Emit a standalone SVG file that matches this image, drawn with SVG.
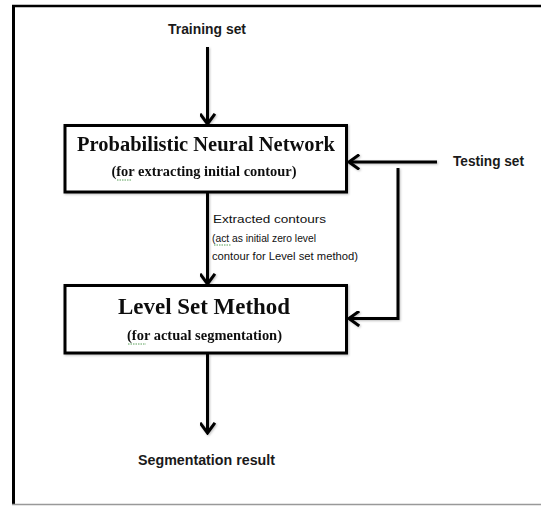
<svg xmlns="http://www.w3.org/2000/svg" width="541" height="506" viewBox="0 0 541 506">
  <defs>
    <marker id="arrow" markerUnits="userSpaceOnUse" viewBox="0 0 14 16" refX="12" refY="8" markerWidth="14" markerHeight="16" orient="auto">
      <path d="M3,1.5 L12,8 L3,14.5" fill="none" stroke="#000" stroke-width="3" stroke-linecap="square" stroke-linejoin="miter"/>
    </marker>
    <filter id="shadow" x="-10%" y="-10%" width="120%" height="120%">
      <feDropShadow dx="1" dy="1" stdDeviation="1" flood-color="#000" flood-opacity="0.25"/>
    </filter>
  </defs>
  <style>
    .box { fill: #fff; stroke: #000; stroke-width: 3; }
    .conn { fill: none; stroke: #000; stroke-width: 3; }
    .title { font-family: "Liberation Serif", "Times New Roman", serif; font-weight: bold; fill: #111; text-anchor: middle; }
    .sub { font-family: "Liberation Serif", "Times New Roman", serif; font-weight: bold; font-size: 14px; fill: #111; text-anchor: middle; }
    .lbl { font-family: "Liberation Sans", Arial, sans-serif; font-weight: bold; font-size: 14px; fill: #1a1a1a; }
    .small { font-family: "Liberation Sans", Arial, sans-serif; font-size: 11px; fill: #111; }
    .squig { fill: none; stroke: #5aa05a; stroke-width: 1; stroke-dasharray: 1.5 1; }
  </style>
  <rect x="0" y="0" width="541" height="506" fill="#fff"/>
  <!-- outer frame -->
  <g id="frame">
    <line x1="13.5" y1="6" x2="13.5" y2="505" stroke="#000" stroke-width="3"/>
    <line x1="12" y1="6" x2="541" y2="6" stroke="#000" stroke-width="2.5"/>
    <line x1="12" y1="504.5" x2="541" y2="504.5" stroke="#999" stroke-width="1.5"/>
  </g>

  <g id="connectors" filter="url(#shadow)">
    <line class="conn" x1="207.5" y1="47" x2="207.5" y2="124" marker-end="url(#arrow)"/>
    <line class="conn" x1="437" y1="162" x2="349" y2="162" marker-end="url(#arrow)"/>
    <polyline class="conn" points="398,168 398,318.5 349,318.5" marker-end="url(#arrow)"/>
    <line class="conn" x1="207.5" y1="193" x2="207.5" y2="284" marker-end="url(#arrow)"/>
    <line class="conn" x1="207.5" y1="354" x2="207.5" y2="433" marker-end="url(#arrow)"/>
  </g>

  <g id="training-set">
    <text class="lbl" x="168" y="34" textLength="78" lengthAdjust="spacingAndGlyphs">Training set</text>
  </g>

  <g id="testing-set">
    <text class="lbl" x="453" y="166" textLength="71" lengthAdjust="spacingAndGlyphs">Testing set</text>
  </g>

  <g id="pnn" filter="url(#shadow)">
    <rect class="box" x="65" y="125.5" width="281.5" height="66.5"/>
    <text class="title" x="206" y="150.5" font-size="20" textLength="258" lengthAdjust="spacingAndGlyphs">Probabilistic Neural Network</text>
    <text class="sub" x="204" y="176" textLength="185" lengthAdjust="spacingAndGlyphs">(for extracting initial contour)</text>
    <path class="squig" d="M117,180 L131,180"/>
  </g>

  <g id="edge-label">
    <text class="small" x="213" y="223" font-size="14" textLength="113" lengthAdjust="spacingAndGlyphs">Extracted contours</text>
    <text class="small" x="212" y="242" textLength="104" lengthAdjust="spacingAndGlyphs">(act as initial zero level</text>
    <text class="small" x="212" y="259.5" textLength="146" lengthAdjust="spacingAndGlyphs">contour for Level set method)</text>
    <path class="squig" d="M214,245 L231,245"/>
  </g>

  <g id="level-set" filter="url(#shadow)">
    <rect class="box" x="65" y="285.5" width="281.5" height="67.5"/>
    <text class="title" x="204" y="314" font-size="23" textLength="172" lengthAdjust="spacingAndGlyphs">Level Set Method</text>
    <text class="sub" x="204.5" y="340" textLength="155" lengthAdjust="spacingAndGlyphs">(for actual segmentation)</text>
    <path class="squig" d="M128,344 L146,344"/>
  </g>

  <g id="segmentation-result">
    <text class="lbl" x="138" y="465" textLength="137" lengthAdjust="spacingAndGlyphs">Segmentation result</text>
  </g>
</svg>
